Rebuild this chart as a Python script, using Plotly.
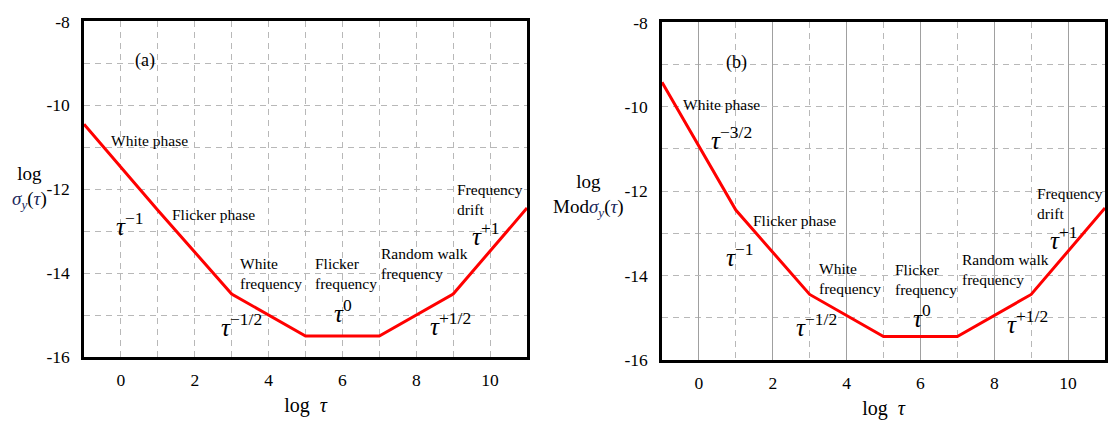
import plotly.graph_objects as go

# ---------------- data ----------------
log_tau = [-1, 1, 3, 5, 7, 9, 11]
log_sigma_a = [-10.45, -12.5, -14.5, -15.5, -15.5, -14.5, -12.45]
log_sigma_b = [-9.42, -12.45, -14.45, -15.45, -15.45, -14.45, -12.4]

x_tickvals = [0, 2, 4, 6, 8, 10]
x_ticktext = ["0", "2", "4", "6", "8", "10"]
x_minorvals = [-1, 1, 3, 5, 7, 9, 11]
y_tickvals = [-16, -14, -12, -10, -8]
y_ticktext = ["-16", "-14", "-12", "-10", "-8"]
y_minorvals = [-15, -13, -11, -9]

W, H = 1110, 427
SERIF = "Liberation Serif"
NAVY = "#1c2a5c"
GRID = "#b8b8b8"

fig = go.Figure()
fig.add_trace(go.Scatter(x=log_tau, y=log_sigma_a, mode="lines",
                         line=dict(color="#ff0000", width=3), xaxis="x", yaxis="y",
                         showlegend=False, hoverinfo="skip"))
fig.add_trace(go.Scatter(x=log_tau, y=log_sigma_b, mode="lines",
                         line=dict(color="#ff0000", width=3), xaxis="x2", yaxis="y2",
                         showlegend=False, hoverinfo="skip"))

def px_dom(a, b, total):
    return [a / total, b / total]

def xaxis_cfg(dom, solid_major):
    return dict(
        domain=dom, range=[-1, 11], tickmode="array", tickvals=x_tickvals, ticktext=x_ticktext,
        showgrid=True, gridcolor=("#a0a0a0" if solid_major else GRID),
        griddash=("solid" if solid_major else "6px,5px"), gridwidth=1,
        minor=dict(tickmode="array", tickvals=x_minorvals, showgrid=True,
                   gridcolor=GRID, griddash="6px,5px", gridwidth=1, ticks=""),
        showline=True, linecolor="black", linewidth=2.5, mirror=True, ticks="",
        zeroline=False, tickfont=dict(family=SERIF, size=17.5, color="black"),
        ticklabelstandoff=5,
        title=dict(text="log  <i>τ</i>", font=dict(family=SERIF, size=20, color="black"), standoff=10),
    )

def yaxis_cfg(dom, anchor):
    return dict(
        domain=dom, range=[-16, -8], tickmode="array", tickvals=y_tickvals, ticktext=y_ticktext,
        showgrid=True, gridcolor=GRID, griddash="6px,5px", gridwidth=1,
        minor=dict(tickmode="array", tickvals=y_minorvals, showgrid=True,
                   gridcolor=GRID, griddash="6px,5px", gridwidth=1, ticks=""),
        showline=True, linecolor="black", linewidth=2.5, mirror=True, ticks="",
        zeroline=False, tickfont=dict(family=SERIF, size=17.5, color="black"),
        ticklabelstandoff=8, anchor=anchor,
    )

fig.update_layout(
    width=W, height=H, autosize=False,
    margin=dict(l=0, r=0, t=0, b=0),
    plot_bgcolor="white", paper_bgcolor="white",
    xaxis=dict(xaxis_cfg(px_dom(84, 527, W), False), anchor="y"),
    yaxis=yaxis_cfg([1 - 364 / H, 1 - 12 / H], "x"),
    xaxis2=dict(xaxis_cfg(px_dom(662, 1105, W), True), anchor="y2"),
    yaxis2=yaxis_cfg([1 - 367 / H, 1 - 13 / H], "x2"),
)

def tau(sup):
    return f"<i>τ</i><sup>{sup}</sup>"

ann = []
def add(text, x, y, axis, size=15.5, xanchor="center", align="center", yanchor="middle"):
    ann.append(dict(text=text, x=x, y=y, xref=f"x{axis}", yref=f"y{axis}",
                    showarrow=False, xanchor=xanchor, yanchor=yanchor, align=align,
                    font=dict(family=SERIF, size=size, color="black")))

# panel (a)
add("(a)", 0.64, -8.93, "", size=18)
add("White phase", 0.78, -10.84, "")
add(tau("−1"), 0.25, -12.84, "", size=25)
add("Flicker phase", 2.51, -12.61, "")
add("White<br>frequency", 3.16, -14.0, "", xanchor="left", align="left")
add(tau("−1/2"), 3.27, -15.25, "", size=25)
add("Flicker<br>frequency", 5.21, -14.0, "", xanchor="left", align="left")
add(tau("0"), 6.02, -14.9, "", size=25)
add("Random walk<br>frequency", 6.99, -13.77, "", xanchor="left", align="left")
add(tau("+1/2"), 8.92, -15.22, "", size=25)
add("Frequency<br>drift", 9.05, -12.25, "", xanchor="left", align="left")
add(tau("+1"), 9.89, -13.08, "", size=25)

# panel (b)
add("(b)", 1.02, -8.94, "2", size=18)
add("White phase", 0.62, -9.94, "2")
add(tau("−3/2"), 0.87, -10.75, "2", size=25)
add("Flicker phase", 2.59, -12.69, "2")
add(tau("−1"), 1.11, -13.52, "2", size=25)
add("White<br>frequency", 3.21, -14.07, "2", xanchor="left", align="left")
add(tau("−1/2"), 3.18, -15.17, "2", size=25)
add("Flicker<br>frequency", 5.25, -14.09, "2", xanchor="left", align="left")
add(tau("0"), 6.05, -14.95, "2", size=25)
add("Random walk<br>frequency", 7.07, -13.85, "2", xanchor="left", align="left")
add(tau("+1/2"), 8.89, -15.1, "2", size=25)
add("Frequency<br>drift", 9.1, -12.3, "2", xanchor="left", align="left")
add(tau("+1"), 9.89, -13.12, "2", size=25)

# y-axis titles
sig = (f"<span style='color:{NAVY}'><i>σ</i></span><sub><span style='color:{NAVY}'><i>y</i></span></sub>"
       f"(<span style='color:{NAVY}'><i>τ</i></span>)")
ann.append(dict(text="log<br>" + sig, x=29 / W, y=1 - 186 / H, xref="paper", yref="paper",
                showarrow=False, xanchor="center", yanchor="middle", align="center",
                font=dict(family=SERIF, size=19, color="black")))
ann.append(dict(text="log<br>Mod" + sig, x=588 / W, y=1 - 195 / H, xref="paper", yref="paper",
                showarrow=False, xanchor="center", yanchor="middle", align="center",
                font=dict(family=SERIF, size=19, color="black")))

fig.update_layout(annotations=ann)

fig.write_html("out.html", config={"displayModeBar": False},
               post_script="document.body.style.margin='0';")
